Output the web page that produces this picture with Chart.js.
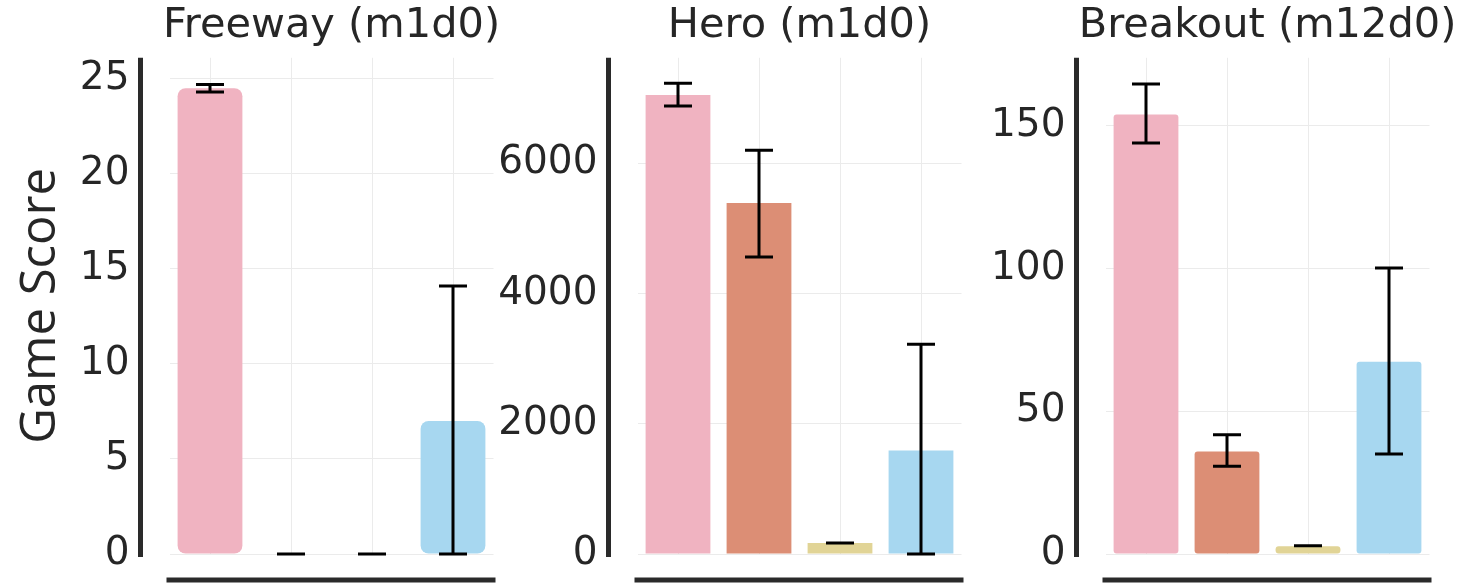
<!DOCTYPE html>
<html>
<head>
<meta charset="utf-8">
<script src="https://cdn.jsdelivr.net/npm/chart.js@4/dist/chart.umd.min.js"></script>
<style>
  html, body { margin: 0; padding: 0; background: #ffffff; overflow: hidden; }
  #wrap { position: relative; width: 1476px; height: 583px; overflow: hidden; }
  canvas { position: absolute; top: 0; }
</style>
</head>
<body>
<div id="wrap">
  <canvas id="c1" width="663" height="583" style="left:0px"></canvas>
  <canvas id="c2" width="663" height="583" style="left:468px"></canvas>
  <canvas id="c3" width="663" height="583" style="left:936px"></canvas>
</div>
<script>
// ---- data ----
const categories = ['Method 1', 'Method 2', 'Method 3', 'Method 4'];
const barColors = ['#F0B3C1', '#DC8E75', '#E1D496', '#A7D7F0'];

const freewayTitle = 'Freeway (m1d0)';
const freewayMean = [24.5, 0, 0, 7.0];
const freewayLow  = [24.3, 0, 0, 0];
const freewayHigh = [24.7, 0, 0, 14.1];
const freewayTicks = [0, 5, 10, 15, 20, 25];
const freewayMax = 26.1;

const heroTitle = 'Hero (m1d0)';
const heroMean = [7050, 5390, 170, 1590];
const heroLow  = [6880, 4560, 170, 0];
const heroHigh = [7230, 6200, 170, 3220];
const heroTicks = [0, 2000, 4000, 6000];
const heroMax = 7620;

const breakoutTitle = 'Breakout (m12d0)';
const breakoutMean = [153.9, 35.9, 2.7, 67.3];
const breakoutLow  = [144.0, 30.7, 2.9, 35.0];
const breakoutHigh = [164.6, 41.8, 2.9, 100.2];
const breakoutTicks = [0, 50, 100, 150];
const breakoutMax = 173.8;

const yAxisTitle = 'Game Score';

// ---- plugins ----
const TEXT = '#262626';
const SPINE = '#2a2a2a';

const errorBarPlugin = {
  id: 'errorBars',
  afterDatasetsDraw(chart, args, opts) {
    const meta = chart.getDatasetMeta(0);
    const ys = chart.scales.y;
    const ctx = chart.ctx;
    ctx.save();
    ctx.strokeStyle = '#000000';
    ctx.lineWidth = 3;
    ctx.lineCap = 'butt';
    meta.data.forEach((bar, i) => {
      const x = bar.x;
      const yl = ys.getPixelForValue(opts.low[i]);
      const yh = ys.getPixelForValue(opts.high[i]);
      const cw = 14;
      ctx.beginPath();
      ctx.moveTo(x, yl); ctx.lineTo(x, yh);
      ctx.moveTo(x - cw, yl); ctx.lineTo(x + cw, yl);
      ctx.moveTo(x - cw, yh); ctx.lineTo(x + cw, yh);
      ctx.stroke();
    });
    ctx.restore();
  }
};

const spinePlugin = {
  id: 'spines',
  afterDraw(chart) {
    const a = chart.chartArea;
    const ctx = chart.ctx;
    ctx.save();
    ctx.strokeStyle = SPINE;
    ctx.lineWidth = 5;
    ctx.beginPath();
    ctx.moveTo(a.left - 29, a.top);
    ctx.lineTo(a.left - 29, a.bottom + 3);
    ctx.stroke();
    ctx.beginPath();
    ctx.moveTo(a.left - 3, a.bottom + 26);
    ctx.lineTo(a.right + 2, a.bottom + 26);
    ctx.stroke();
    ctx.restore();
  }
};

const SIDE = 169.5;

function makeChart(id, title, mean, low, high, ticks, yMax, radius, showYTitle) {
  return new Chart(document.getElementById(id), {
    type: 'bar',
    data: {
      labels: categories,
      datasets: [{
        data: mean,
        backgroundColor: barColors,
        borderWidth: 0,
        borderRadius: radius,
        borderSkipped: false,
        barPercentage: 0.8,
        categoryPercentage: 1.0
      }]
    },
    plugins: [errorBarPlugin, spinePlugin],
    options: {
      responsive: false,
      animation: false,
      devicePixelRatio: 1,
      layout: { padding: { left: 0, right: 0, top: 0, bottom: 29 } },
      plugins: {
        legend: { display: false },
        tooltip: { enabled: false },
        title: {
          display: true,
          text: title,
          color: TEXT,
          font: { family: 'DejaVu Sans', size: 41.5, weight: 'normal', lineHeight: 1.2 },
          padding: { top: 1.1, bottom: 6.9 }
        },
        errorBars: { low: low, high: high }
      },
      scales: {
        x: {
          offset: true,
          grid: { offset: false, color: '#ebebeb', lineWidth: 1, drawTicks: false },
          border: { display: false },
          ticks: { display: false }
        },
        y: {
          min: 0,
          max: yMax,
          afterBuildTicks: (s) => { s.ticks = ticks.map(v => ({ value: v })); },
          afterFit: (s) => { s.width = SIDE; s.paddingTop = 0; s.paddingBottom = 0; },
          grid: { color: '#ebebeb', lineWidth: 1, drawTicks: false },
          border: { display: false },
          ticks: {
            padding: 40,
            color: TEXT,
            font: { family: 'DejaVu Sans', size: 39 },
            callback: (v) => String(v)
          },
          title: {
            display: showYTitle,
            text: yAxisTitle,
            color: TEXT,
            font: { family: 'Open Sans', size: 49 },
            padding: { top: 11.2, bottom: 0 }
          }
        },
        yRight: {
          type: 'linear',
          position: 'right',
          display: true,
          afterFit: (s) => { s.width = SIDE; s.paddingTop = 0; s.paddingBottom = 0; },
          grid: { display: false, drawTicks: false },
          border: { display: false },
          ticks: { display: false }
        }
      }
    }
  });
}

makeChart('c1', freewayTitle, freewayMean, freewayLow, freewayHigh, freewayTicks, freewayMax, 8, true);
makeChart('c2', heroTitle, heroMean, heroLow, heroHigh, heroTicks, heroMax, 0, false);
makeChart('c3', breakoutTitle, breakoutMean, breakoutLow, breakoutHigh, breakoutTicks, breakoutMax, 3, false);
</script>
</body>
</html>
